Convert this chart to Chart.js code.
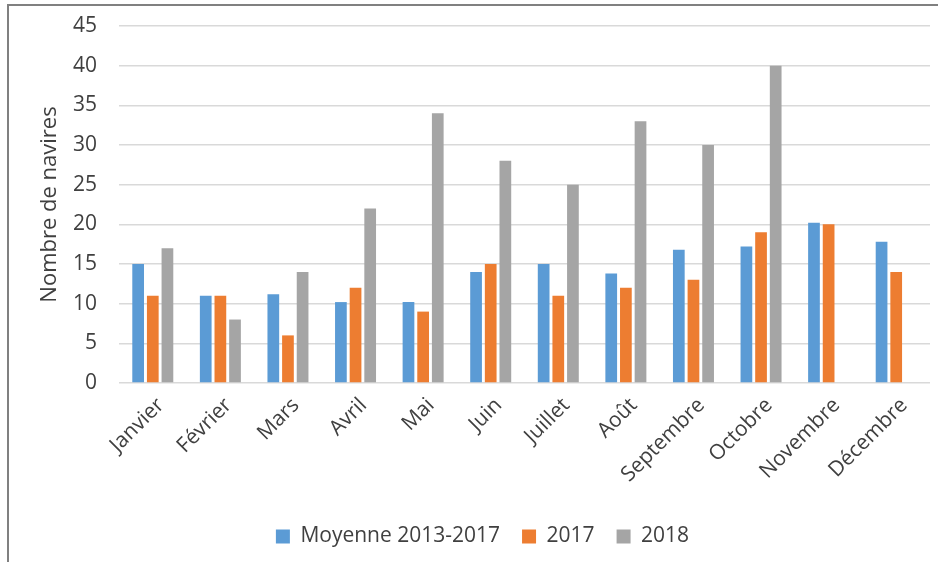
<!DOCTYPE html>
<html>
<head>
<meta charset="utf-8">
<script src="https://cdn.jsdelivr.net/npm/chart.js@4/dist/chart.umd.min.js"></script>
<style>
  html, body { margin: 0; padding: 0; background: #ffffff; }
  #wrap { position: relative; width: 938px; height: 562px; }
  canvas { display: block; }
</style>
</head>
<body>
<div id="wrap"><canvas id="c" width="938" height="562"></canvas></div>
<script>
const months = ["Janvier", "Février", "Mars", "Avril", "Mai", "Juin", "Juillet", "Août", "Septembre", "Octobre", "Novembre", "Décembre"];
const moyenne20132017 = [15, 11, 11.2, 10.2, 10.2, 14, 15, 13.8, 16.8, 17.2, 20.2, 17.8];
const values2017 = [11, 11, 6, 12, 9, 15, 11, 12, 13, 19, 20, 14];
const values2018 = [17, 8, 14, 22, 34, 28, 25, 33, 30, 40, null, null];
const seriesNames = ["Moyenne 2013-2017", "2017", "2018"];
const yAxisTitle = "Nombre de navires";

const FONT = "'Open Sans', 'DejaVu Sans', sans-serif";
const TEXT = "#404040";

const framePlugin = {
  id: "frame",
  afterDraw(chart) {
    const ctx = chart.ctx;
    ctx.save();
    ctx.fillStyle = "#808080";
    ctx.fillRect(7, 4, 2, 558);
    ctx.fillRect(7, 4, 931, 2);
    ctx.restore();
  }
};

new Chart(document.getElementById("c"), {
  type: "bar",
  data: {
    labels: months,
    datasets: [
      { label: seriesNames[0], data: moyenne20132017, backgroundColor: "#5B9BD5" },
      { label: seriesNames[1], data: values2017, backgroundColor: "#ED7D31" },
      { label: seriesNames[2], data: values2018, backgroundColor: "#A5A5A5" }
    ]
  },
  options: {
    responsive: false,
    animation: false,
    devicePixelRatio: 1,
    categoryPercentage: 0.65,
    barPercentage: 0.8,
    layout: { padding: { left: 35, right: 8, top: 26, bottom: 5 } },
    plugins: {
      legend: {
        position: "bottom",
        labels: {
          font: { family: FONT, size: 21 },
          color: TEXT,
          boxWidth: 14,
          boxHeight: 14,
          padding: 22
        }
      },
      tooltip: { enabled: false }
    },
    scales: {
      x: {
        grid: { display: false },
        border: { display: false },
        ticks: {
          font: { family: FONT, size: 21 },
          color: TEXT,
          minRotation: 45,
          maxRotation: 45,
          autoSkip: false,
          padding: 2,
          labelOffset: 8
        },
        afterFit(scale) { scale.height = 121; }
      },
      y: {
        min: 0,
        max: 45,
        ticks: {
          stepSize: 5,
          font: { family: FONT, size: 21 },
          color: TEXT,
          padding: 22
        },
        grid: { color: "#d9d9d9", lineWidth: 1.5, drawTicks: false },
        border: { display: false },
        title: {
          display: true,
          text: yAxisTitle,
          font: { family: FONT, size: 22 },
          color: TEXT,
          padding: { top: 2, bottom: 4 }
        },
        afterFit(scale) {
          scale.width = 84;
          scale.paddingTop = 0;
          scale.paddingBottom = 0;
        }
      }
    }
  },
  plugins: [framePlugin]
});
</script>
</body>
</html>
